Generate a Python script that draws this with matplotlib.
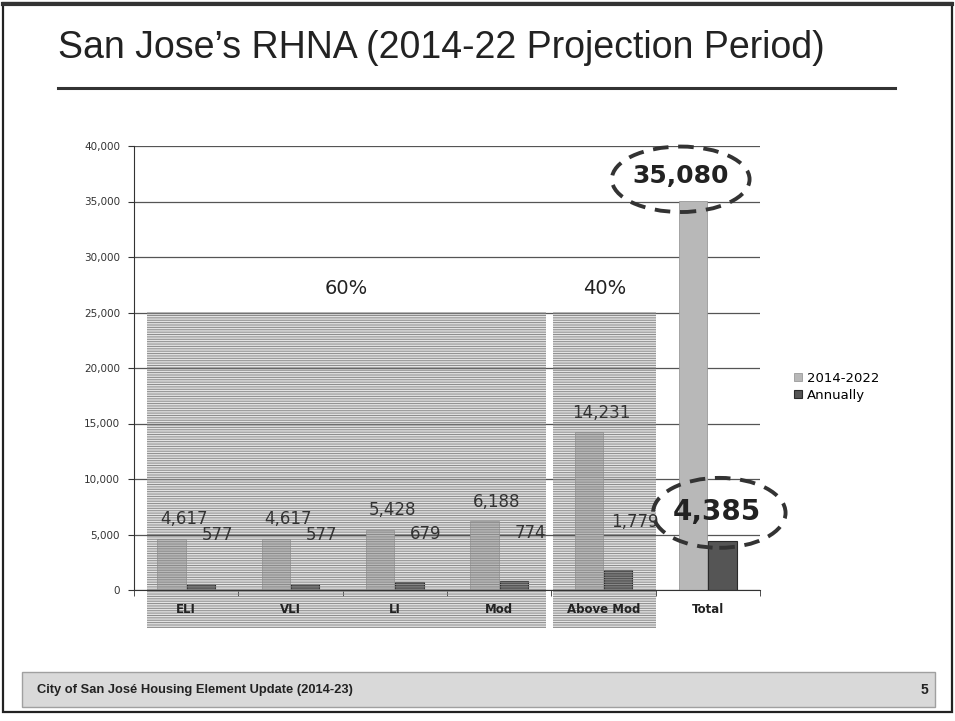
import matplotlib
matplotlib.use("Agg")
import matplotlib.pyplot as plt
from matplotlib.patches import Rectangle, Ellipse
import matplotlib.transforms as mtransforms
import numpy as np

categories = ["ELI", "VLI", "LI", "Mod", "Above Mod", "Total"]
period_units = [4617, 4617, 5428, 6188, 14231, 35080]
annual_units = [577, 577, 679, 774, 1779, 4385]
series_names = ["2014-2022", "Annually"]
yticks = [0, 5000, 10000, 15000, 20000, 25000, 30000, 35000, 40000]
share_labels = ["60%", "40%"]

W, H = 955, 721
fig = plt.figure(figsize=(W / 100, H / 100), dpi=100)
fig.patch.set_facecolor("white")

def fx(px):
    return px / W

def fy(py):
    return 1 - py / H

# page frame
fig.add_artist(Rectangle((fx(3), fy(712)), fx(949), 709 / H, transform=fig.transFigure,
                         fill=False, edgecolor="#222222", linewidth=1.6))
fig.add_artist(plt.Line2D([fx(3), fx(952)], [fy(4), fy(4)], transform=fig.transFigure,
                          color="#333333", linewidth=3))

# title and rule
fig.text(fx(58), fy(48), "San Jose\u2019s RHNA (2014-22 Projection Period)",
         family=["Liberation Sans Narrow", "Liberation Sans"], fontsize=27,
         color="#222222", va="center", ha="left")
fig.add_artist(plt.Line2D([fx(58), fx(895)], [fy(88), fy(88)], transform=fig.transFigure,
                          color="#333333", linewidth=2.2))

# footer band
fig.add_artist(Rectangle((fx(22), fy(707)), fx(913), 35 / H, transform=fig.transFigure,
                         facecolor="#d9d9d9", edgecolor="#a0a0a0", linewidth=1))
fig.text(fx(37), fy(690), "City of San Jos\u00e9 Housing Element Update (2014-23)",
         family=["Liberation Sans Narrow", "Liberation Sans"], fontweight="bold",
         fontsize=9.3, color="#222222", va="center")
fig.text(fx(928), fy(690), "5", family=["Liberation Sans Narrow", "Liberation Sans"],
         fontweight="bold", fontsize=10, color="#222222", va="center", ha="right")

ax = fig.add_axes([fx(134), fy(590), fx(760 - 134), (590 - 146) / H])
x = np.arange(len(categories))
ax.set_xlim(-0.5, len(categories) - 0.5)
ax.set_ylim(0, 40000)

# shaded affordability groupings
plt.rcParams["hatch.linewidth"] = 0.7
for x0, x1 in [(-0.375, 3.445), (3.52, 4.50)]:
    ax.add_patch(Rectangle((x0, -3450), x1 - x0, 25000 + 3450, facecolor="#e3e3e3",
                           edgecolor="none", clip_on=False, zorder=0.5))
    ax.add_patch(Rectangle((x0, -3450), x1 - x0, 25000 + 3450, facecolor="none",
                           edgecolor="#8a8a8a", hatch="-------", linewidth=0,
                           clip_on=False, zorder=3))
ax.text(1.53, 26300, share_labels[0], ha="center", va="bottom", fontsize=14, color="#222222")
ax.text(4.01, 26300, share_labels[1], ha="center", va="bottom", fontsize=14, color="#222222")

ax.set_yticks(yticks)
ax.set_yticklabels([f"{v:,}" for v in yticks], fontsize=7.5, color="#333333")
ax.yaxis.grid(True, color="#555555", linewidth=0.9, zorder=1)
ax.set_axisbelow(True)

bw = 0.27
ax.bar(x - 0.14, period_units, bw, color="#b8b8b8", edgecolor="#9a9a9a", linewidth=0.6,
       label=series_names[0], zorder=2)
ax.bar(x + 0.14, annual_units, bw, color="#555555", edgecolor="#2a2a2a", linewidth=0.8,
       label=series_names[1], zorder=2)

# value labels
for i in range(len(categories) - 1):
    ax.annotate(f"{period_units[i]:,}", (x[i] - 0.14, period_units[i]),
                xytext=(9, 14), textcoords="offset points", ha="center", va="center",
                fontsize=12, color="#333333", zorder=5)
    ax.annotate(f"{annual_units[i]:,}", (x[i] + 0.14, annual_units[i]),
                xytext=(12, 35), textcoords="offset points", ha="center", va="center",
                fontsize=12, color="#333333", zorder=5)

# highlighted totals
ax.text(4.74, 37300, f"{period_units[-1]:,}", ha="center", va="center", fontsize=18,
        fontweight="bold", color="#222222", zorder=6)
ax.add_patch(Ellipse((4.74, 37000), 1.32, 5900, fill=False, edgecolor="#333333",
                     linewidth=2.8, linestyle=(0, (4, 2.5)), clip_on=False, zorder=6))
ax.text(5.09, 7000, f"{annual_units[-1]:,}", ha="center", va="center", fontsize=20,
        fontweight="bold", color="#222222", zorder=6)
ax.add_patch(Ellipse((5.11, 6950), 1.27, 6300, fill=False, edgecolor="#333333",
                     linewidth=2.8, linestyle=(0, (4, 2.5)), clip_on=False, zorder=6))

# category labels drawn as text so they sit above the shading
ax.set_xticks(x)
ax.set_xticklabels([])
ax.tick_params(axis="x", length=0)
lab_tr = mtransforms.blended_transform_factory(ax.transData, ax.transAxes)
for xi, name in zip(x, categories):
    ax.text(xi, -0.045, name, transform=lab_tr, ha="center", va="center", fontsize=8.5,
            fontweight="bold", color="#222222", zorder=6, clip_on=False)
ax.set_xticks(np.arange(-0.5, len(categories)), minor=True)
ax.tick_params(axis="x", which="minor", length=4, color="#333333")
ax.tick_params(axis="y", length=4, color="#333333", pad=6)

for s in ["top", "right"]:
    ax.spines[s].set_visible(False)
ax.spines["left"].set_color("#333333")
ax.spines["bottom"].set_color("#333333")
ax.spines["bottom"].set_zorder(4)

leg = ax.legend(loc="center left", bbox_to_anchor=(1.035, 0.458), frameon=False,
                fontsize=9.5, handlelength=0.6, handleheight=0.6, handletextpad=0.4,
                labelspacing=0.3)

fig.savefig("out.png", dpi=100)
